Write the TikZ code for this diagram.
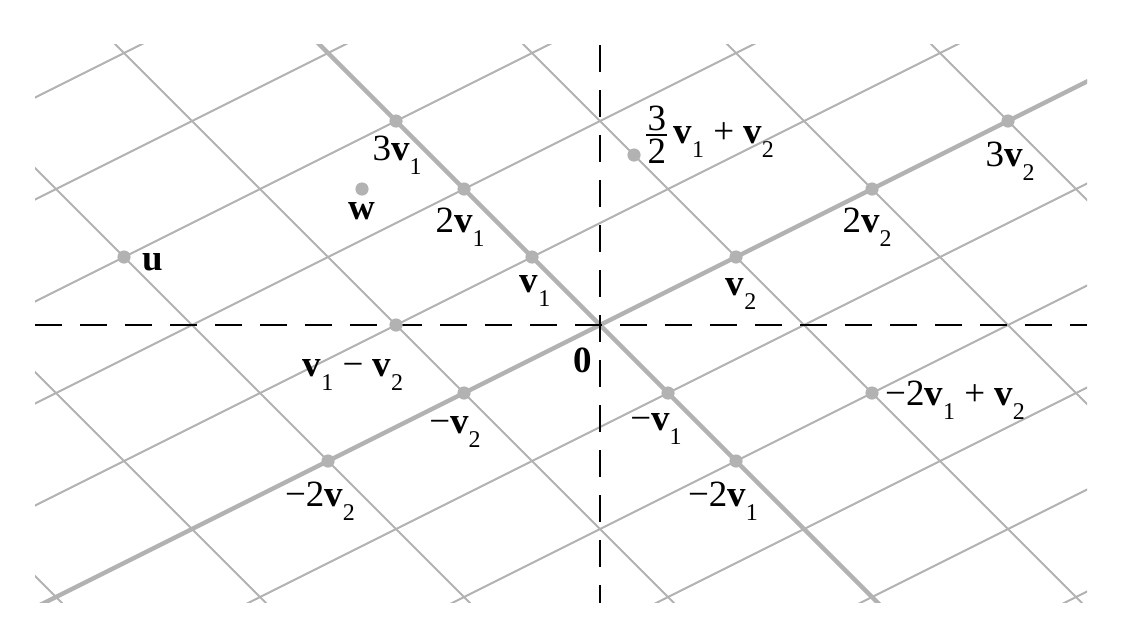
\documentclass[tikz,border=0pt]{standalone}
\usepackage{fontspec}
\setmainfont{Liberation Serif}
\definecolor{lgray}{RGB}{178,178,178}
\newcommand{\myv}[1]{\textbf{v}\raisebox{-7pt}{\fontsize{12}{14}\selectfont #1}}
\newcommand{\myfrac}[2]{\ensuremath{\vcenter{\hbox{\vbox{\hbox to 10.5pt{\hss #1\hss}\kern1.6pt\hrule height 0.9pt\kern1.6pt\hbox to 10.5pt{\hss #2\hss}}}}}}
\tikzset{
  gridline/.style={draw=lgray, line width=1pt},
  spanline/.style={draw=lgray, line width=2.2pt},
  axisline/.style={draw=black, line width=1.2pt, dash pattern=on 13.5pt off 9pt},
  dot/.style={circle, fill=lgray, inner sep=0pt, minimum size=6.6pt},
  lbl/.style={inner sep=0pt, font=\fontsize{18.5}{22}\selectfont},
}
\begin{document}
\begin{tikzpicture}[x=0.5pt,y=-0.5pt]
\useasboundingbox (0,0) rectangle (1136,628);
% lattice: origin (600,325), v1=(-68,-68), v2=(136,-68) in pixel units
\coordinate (O) at (600,325);
\begin{scope}
  \clip (35,44) rectangle (1087,602);
  \foreach \k in {-6,...,6} {
    \draw[gridline] ({600-68*\k-136*8},{325-68*\k+68*8}) -- ({600-68*\k+136*8},{325-68*\k-68*8});
    \draw[gridline] ({600+136*\k+68*8},{325-68*\k+68*8}) -- ({600+136*\k-68*8},{325-68*\k-68*8});
  }
  \draw[spanline] ({600+68*10},{325+68*10}) -- ({600-68*10},{325-68*10});
  \draw[spanline] ({600-136*6},{325+68*6}) -- ({600+136*6},{325-68*6});
\end{scope}
% axes
\coordinate (xl) at (35,325);
\coordinate (xr) at (1087,325);
\coordinate (yt) at (600,45);
\coordinate (yb) at (600,603);
\draw[axisline] (xl) -- (xr);
\draw[axisline] (yt) -- (yb);
% points
\node[dot] (p3v1) at (396,121) {};
\node[dot] (p2v1) at (464,189) {};
\node[dot] (pv1) at (532,257) {};
\node[dot] (pv2) at (736,257) {};
\node[dot] (p2v2) at (872,189) {};
\node[dot] (p3v2) at (1008,121) {};
\node[dot] (pmv1) at (668,393) {};
\node[dot] (pm2v1) at (736,461) {};
\node[dot] (pmv2) at (464,393) {};
\node[dot] (pm2v2) at (328,461) {};
\node[dot] (pdiff) at (396,325) {};
\node[dot] (pcomb) at (872,393) {};
\node[dot] (pfrac) at (634,155) {};
\node[dot] (pw) at (362,189) {};
\node[dot] (pu) at (124,257) {};
% labels
\node[lbl] (l3v1) at (397,155) {3\myv{1}};
\node[lbl] (l2v1) at (460,227) {2\myv{1}};
\node[lbl] (lv1) at (535,291) {\myv{1}};
\node[lbl] (lv2) at (741,294) {\myv{2}};
\node[lbl] (l2v2) at (867,227) {2\myv{2}};
\node[lbl] (l3v2) at (1010,161) {3\myv{2}};
\node[lbl] (lw) at (362,211) {\textbf{w}};
\node[lbl] (lu) at (153,262) {\textbf{u}};
\node[lbl] (l0) at (583,360) {\textbf{0}};
\node[lbl] (lmv1) at (656,429) {−\myv{1}};
\node[lbl] (lm2v1) at (723,501) {−2\myv{1}};
\node[lbl] (lmv2) at (455,432) {−\myv{2}};
\node[lbl] (lm2v2) at (320,501) {−2\myv{2}};
\node[lbl] (ldiff) at (353,375) {\myv{1} − \myv{2}};
\node[lbl] (lcomb) at (955,400) {−2\myv{1} + \myv{2}};
\node[lbl, anchor=west] (lfrac) at (646,135) {\myfrac{3}{2}\,\myv{1} + \myv{2}};
\end{tikzpicture}
\end{document}
